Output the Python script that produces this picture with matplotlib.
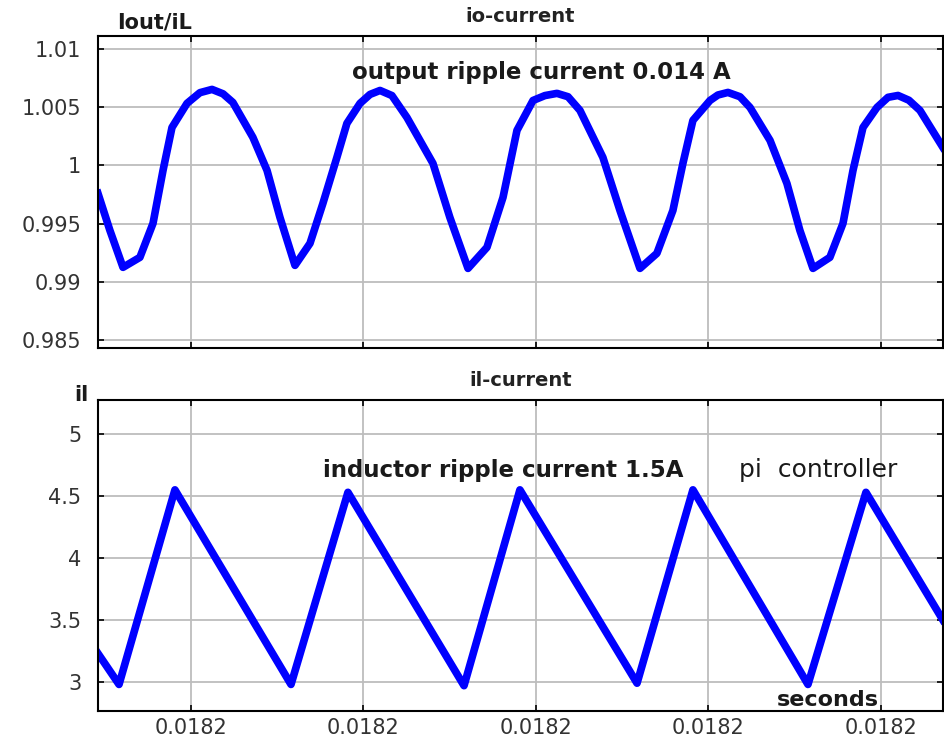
import numpy as np
import matplotlib
matplotlib.use("Agg")
import matplotlib.pyplot as plt
from matplotlib.ticker import FormatStrFormatter

# time axis: microseconds after t = 0.0182 s
io_us = [-5.39, -4.70, -3.94, -2.96, -2.20, -1.62, -1.10, -0.23, 0.52, 1.22, 1.86, 2.43,
         3.59, 4.41, 5.16, 6.03, 6.90, 7.65, 8.46, 9.04, 9.80, 10.38, 10.96, 11.65,
         12.52, 14.03, 15.01, 16.06, 17.16, 18.09, 18.90, 19.83, 20.52, 21.22, 21.86, 22.55,
         23.88, 24.87, 26.03, 27.01, 27.94, 28.52, 29.10, 30.09, 30.55, 31.13, 31.83, 32.41,
         33.57, 34.55, 35.30, 36.06, 37.04, 37.80, 38.38, 38.96, 39.77, 40.41, 40.99, 41.62,
         42.26, 43.59]
io_val = [0.99759, 0.99442, 0.99124, 0.99210, 0.99502, 0.99957, 1.00326, 1.00533, 1.00625, 1.00653, 1.00615, 1.00541,
          1.00241, 0.99957, 0.99553, 0.99141, 0.99330, 0.99674, 1.00069, 1.00361, 1.00533, 1.00610, 1.00644, 1.00600,
          1.00412, 1.00017, 0.99553, 0.99115, 0.99296, 0.99725, 1.00301, 1.00558, 1.00600, 1.00619, 1.00590, 1.00473,
          1.00069, 0.99613, 0.99115, 0.99244, 0.99613, 1.00017, 1.00387, 1.00558, 1.00605, 1.00627, 1.00590, 1.00498,
          1.00215, 0.99845, 0.99442, 0.99115, 0.99210, 0.99502, 0.99957, 1.00326, 1.00498, 1.00585, 1.00601, 1.00560,
          1.00473, 1.00155]

il_us = [-5.39, -4.17, -0.93, 5.80, 9.10, 15.83, 19.07, 25.86, 29.10, 35.77, 39.13, 43.59]
il_val = [3.23, 2.98, 4.55, 2.98, 4.53, 2.97, 4.55, 2.99, 4.55, 2.98, 4.53, 3.50]

tick_us = [0, 10, 20, 30, 40]
t0 = 0.0182

io_t = t0 + np.array(io_us) * 1e-6
il_t = t0 + np.array(il_us) * 1e-6
ticks = t0 + np.array(tick_us) * 1e-6
xlim = (t0 - 5.39e-6, t0 + 43.59e-6)

plt.rcParams['font.family'] = ['DejaVu Sans']

fig = plt.figure(figsize=(9.44, 7.42), dpi=100)
ax1 = fig.add_axes([0.1038, 0.531, 0.895, 0.4205])
ax2 = fig.add_axes([0.1038, 0.0418, 0.895, 0.419])

def fmt(ax):
    ax.grid(True, color='#bdbdbd', linewidth=1.3)
    ax.set_axisbelow(True)
    for s in ax.spines.values():
        s.set_linewidth(1.5)
        s.set_color('black')
    ax.tick_params(direction='in', length=4, width=1.2, top=True, right=True,
                   labelsize=15, labelcolor='#333333')
    ax.tick_params(axis='y', pad=12)
    ax.tick_params(axis='x', pad=5)
    ax.set_xticks(ticks)
    ax.set_xlim(xlim)
    ax.xaxis.set_major_formatter(FormatStrFormatter('%.4f'))

ax1.plot(io_t, io_val, color='#0000ff', linewidth=5.5, solid_joinstyle='round')
fmt(ax1)
ax1.set_ylim(0.98431, 1.01112)
ax1.set_yticks([0.985, 0.99, 0.995, 1.0, 1.005, 1.01])
ax1.set_yticklabels(['0.985', '0.99', '0.995', '1', '1.005', '1.01'])
ax1.tick_params(axis='x', labelbottom=False)
ax1.set_title('io-current', fontsize=14, fontweight='bold', color='#222222', pad=10)
ax1.text(t0 + 20.3e-6, 1.00799, 'output ripple current 0.014 A', ha='center', va='center',
         fontsize=16.5, fontweight='bold', color='#1a1a1a')
fig.text(155 / 944, 1 - 22 / 742, 'Iout/iL', ha='center', va='center',
         fontsize=15, fontweight='bold', color='#1a1a1a')

ax2.plot(il_t, il_val, color='#0000ff', linewidth=5.5, solid_joinstyle='round')
fmt(ax2)
ax2.set_ylim(2.766, 5.274)
ax2.set_yticks([3, 3.5, 4, 4.5, 5])
ax2.set_yticklabels(['3', '3.5', '4', '4.5', '5'])
ax2.set_title('il-current', fontsize=14, fontweight='bold', color='#222222', pad=10)
ax2.text(t0 + 18.1e-6, 4.71, 'inductor ripple current 1.5A', ha='center', va='center',
         fontsize=16.5, fontweight='bold', color='#1a1a1a')
ax2.text(t0 + 36.35e-6, 4.71, 'pi  controller', ha='center', va='center',
         fontsize=18, color='#1a1a1a')
ax2.text(t0 + 36.9e-6, 2.855, 'seconds', ha='center', va='center',
         fontsize=16, fontweight='bold', color='#1a1a1a')
fig.text(81 / 944, 1 - 395 / 742, 'il', ha='center', va='center',
         fontsize=15, fontweight='bold', color='#1a1a1a')

fig.savefig('out.png', dpi=100)
